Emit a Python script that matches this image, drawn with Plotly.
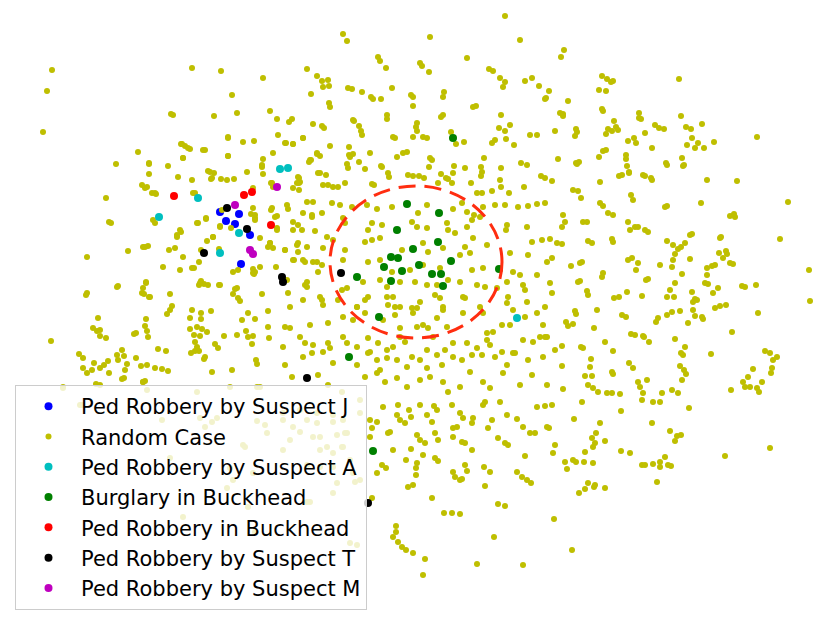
import plotly.graph_objects as go

# positions (x to the right, y downward)
random_case_xy = [
    # top left
    (52, 70), (47, 91), (43, 132), (192, 68), (221, 71), (263, 78), (232, 95), (171, 114), (173, 115),
    (214, 116), (237, 113), (270, 111), (277, 119), (228, 138), (243, 142), (254, 141), (278, 135),
    (181, 144), (185, 146), (190, 149), (138, 152), (205, 150), (228, 156), (183, 158), (263, 159),
    (273, 153), (116, 164), (149, 164), (168, 166), (262, 167), (149, 174), (178, 177), (208, 171),
    (214, 173), (211, 179), (221, 179), (227, 180), (234, 179), (247, 172), (263, 174), (142, 185),
    (145, 188), (192, 180), (152, 193), (156, 194), (193, 193), (271, 183), (253, 188), (106, 198),
    (182, 144), (188, 148), (203, 150), (149, 163), (210, 172), (212, 178), (262, 165), (285, 143),
    (293, 144), (303, 138), (317, 153), (310, 160), (298, 177), (300, 182), (272, 183), (273, 187),
    (147, 187), (155, 193), (195, 193),
    # top middle
    (505, 16), (343, 34), (347, 41), (430, 37), (520, 40), (378, 57), (380, 61), (420, 63), (422, 66),
    (467, 58), (307, 69), (386, 68), (429, 72), (489, 69), (493, 71), (317, 76), (322, 81), (328, 80),
    (323, 87), (329, 86), (500, 78), (505, 82), (503, 87), (525, 81), (532, 78), (539, 86), (348, 88),
    (352, 89), (362, 92), (392, 88), (549, 91), (311, 94), (371, 97), (373, 99), (381, 99), (411, 95),
    (413, 97), (444, 92), (443, 97), (545, 99), (546, 98), (329, 103), (330, 107), (413, 106),
    (473, 107), (476, 106), (560, 113), (289, 122), (292, 119), (387, 115), (387, 119), (443, 115),
    (441, 117), (501, 115), (313, 124), (322, 126), (324, 128), (353, 120), (354, 121), (359, 126),
    (361, 131), (362, 135), (417, 123), (416, 127), (417, 131), (499, 128), (505, 131), (510, 125),
    (555, 131), (303, 138), (330, 146), (286, 143), (293, 144), (349, 147), (393, 137), (395, 138),
    (413, 137), (423, 137), (427, 138), (451, 132), (456, 144), (464, 142), (492, 143), (495, 140),
    (506, 139), (514, 145), (530, 135), (537, 135), (311, 160), (309, 162), (317, 154), (320, 156),
    (349, 155), (353, 154), (350, 157), (370, 153), (359, 162), (397, 157), (403, 153), (407, 152),
    (430, 158), (432, 160), (429, 167), (484, 158), (347, 164), (348, 168), (365, 169), (381, 166),
    (382, 167), (388, 173), (389, 177), (408, 175), (413, 176), (419, 176), (424, 178), (441, 174),
    (446, 178), (453, 173), (454, 166), (465, 168), (481, 167), (482, 172), (481, 176), (501, 168),
    (521, 163), (527, 165), (541, 176), (545, 178), (552, 181), (558, 159), (318, 173), (320, 173),
    (326, 175), (299, 178), (299, 183), (293, 188), (323, 185), (328, 185), (333, 187), (338, 187),
    (345, 183), (372, 184), (374, 185), (438, 183), (448, 179), (452, 183), (471, 183), (500, 180),
    (501, 187), (477, 193), (482, 193), (492, 191), (524, 187), (509, 193),
    # top right
    (564, 50), (561, 57), (602, 76), (607, 79), (613, 81), (611, 82), (679, 79), (599, 90), (606, 91),
    (568, 101), (563, 114), (563, 116), (602, 109), (603, 111), (639, 113), (639, 118), (641, 119),
    (681, 116), (576, 129), (577, 132), (575, 136), (614, 121), (616, 127), (618, 130), (608, 129),
    (612, 131), (606, 134), (655, 125), (659, 128), (664, 129), (645, 133), (686, 127), (691, 129),
    (702, 124), (757, 137), (628, 141), (634, 138), (636, 143), (652, 148), (692, 138), (687, 145),
    (695, 148), (698, 143), (704, 148), (714, 142), (603, 151), (606, 150), (599, 157), (576, 163),
    (579, 162), (577, 164), (626, 155), (626, 159), (627, 166), (629, 172), (629, 173), (666, 163),
    (667, 165), (682, 158), (683, 166), (684, 165), (619, 176), (622, 175), (600, 182), (643, 175),
    (645, 176), (651, 178), (652, 180), (707, 180), (737, 181), (573, 190), (578, 191), (581, 198),
    (631, 195),
    # middle left
    (109, 222), (111, 223), (153, 220), (155, 223), (181, 232), (177, 235), (198, 223), (206, 219),
    (213, 237), (220, 226), (87, 257), (128, 251), (143, 247), (148, 246), (169, 250), (175, 248),
    (201, 250), (207, 241), (219, 249), (231, 228), (199, 262), (192, 268), (194, 268), (163, 267),
    (180, 270), (233, 272), (238, 270), (253, 269), (254, 274), (260, 267), (270, 243), (273, 248),
    (271, 210), (277, 216), (277, 230), (251, 214), (255, 218), (253, 208), (118, 286), (117, 287),
    (87, 293), (86, 295), (146, 282), (143, 288), (142, 293), (144, 294), (150, 297), (170, 294),
    (201, 281), (199, 285), (204, 284), (208, 285), (219, 285), (235, 289), (233, 294), (238, 298),
    (240, 301), (262, 294), (172, 306), (170, 310), (167, 314), (192, 310), (190, 318), (201, 313),
    (201, 319), (211, 311), (248, 313), (255, 319), (242, 320), (268, 311), (98, 318), (93, 328),
    (97, 331), (100, 330), (100, 336), (106, 338), (146, 319), (145, 326), (147, 331), (148, 337),
    (134, 334), (136, 333), (51, 341), (190, 329), (197, 327), (202, 329), (207, 332), (194, 335),
    (200, 336), (195, 342), (197, 347), (199, 351), (224, 336), (237, 335), (246, 331), (248, 337),
    (252, 344), (253, 336), (268, 327), (269, 338), (215, 344), (218, 348), (191, 353), (195, 351),
    (205, 357), (204, 359), (158, 349), (166, 351), (79, 354), (83, 358), (122, 350), (117, 355),
    (118, 360), (124, 356), (127, 364), (108, 361), (104, 365), (100, 368), (94, 363), (92, 370),
    (87, 373), (83, 368), (109, 373), (125, 370), (124, 378), (122, 379), (136, 358), (141, 366),
    (147, 365), (155, 368), (162, 369), (168, 371), (212, 372), (232, 370), (256, 360), (257, 364),
    (96, 384), (143, 382), (145, 381), (147, 390), (230, 387), (257, 387), (260, 387), (63, 388),
    (228, 137), (228, 156), (183, 158), (222, 210), (206, 218), (197, 223), (180, 230), (177, 237),
    (213, 237), (220, 227), (255, 215), (255, 220), (272, 208), (275, 217), (287, 205), (297, 183),
    (299, 190), (307, 202), (313, 202), (293, 222), (302, 230), (312, 217), (260, 238), (277, 228),
    (270, 243), (268, 247), (285, 250), (297, 245), (298, 252), (294, 260), (303, 260), (305, 262),
    (317, 262), (307, 282), (276, 267), (255, 272), (253, 273), (220, 285), (237, 288), (200, 283),
    (183, 257), (145, 247), (146, 283), (149, 297),
    # middle
    (288, 209), (303, 213), (312, 215), (322, 213), (332, 203), (340, 205), (352, 207), (367, 205),
    (377, 209), (392, 207), (418, 213), (427, 205), (453, 209), (462, 203), (474, 215), (483, 207),
    (495, 205), (505, 205), (518, 207), (528, 206), (537, 204), (545, 203), (467, 212),
    (293, 230), (298, 225), (315, 231), (327, 237), (343, 218), (345, 223), (372, 223), (368, 230),
    (382, 225), (412, 222), (417, 227), (427, 228), (447, 223), (448, 230), (467, 227), (472, 220),
    (480, 217), (507, 225), (506, 230), (527, 227),
    (285, 250), (298, 243), (307, 247), (323, 248), (333, 240), (345, 250), (365, 242), (372, 240),
    (380, 238), (402, 250), (423, 243), (428, 252), (443, 248), (455, 233), (465, 247), (470, 253),
    (473, 238), (487, 245), (510, 253), (528, 255), (542, 240), (550, 239), (557, 243), (532, 242),
    (293, 260), (313, 262), (322, 265), (343, 260), (368, 262), (380, 260), (392, 272), (410, 270),
    (423, 265), (440, 268), (460, 255), (472, 270), (483, 268), (513, 272), (520, 275), (537, 275),
    (547, 262), (552, 258),
    (287, 280), (305, 285), (307, 287), (318, 272), (342, 290), (347, 288), (363, 282), (380, 280),
    (387, 287), (400, 282), (415, 282), (427, 285), (437, 285), (448, 280), (460, 282), (477, 285),
    (485, 287), (497, 288), (507, 282), (523, 285), (525, 290), (550, 283), (552, 293),
    (288, 293), (303, 300), (320, 297), (322, 300), (323, 305), (338, 300), (357, 307), (365, 300),
    (368, 297), (387, 297), (388, 305), (393, 297), (395, 307), (400, 307), (412, 308), (417, 308),
    (420, 302), (435, 295), (440, 298), (443, 307), (463, 297), (465, 298), (480, 307), (508, 297),
    (507, 303), (527, 302), (545, 307),
    (290, 307), (285, 327), (290, 328), (310, 325), (328, 323), (343, 317), (353, 320), (357, 307),
    (365, 313), (383, 320), (395, 315), (400, 328), (413, 313), (417, 327), (423, 325), (428, 328),
    (437, 318), (443, 310), (447, 327), (463, 313), (483, 313), (487, 333), (493, 332), (502, 325),
    (510, 325), (513, 310), (525, 317), (537, 313), (543, 325), (547, 337), (540, 337),
    (283, 347), (300, 337), (305, 343), (313, 345), (328, 343), (330, 348), (343, 337), (347, 343),
    (357, 347), (368, 338), (370, 352), (378, 343), (387, 350), (393, 347), (400, 337), (405, 342),
    (427, 350), (433, 337), (445, 350), (453, 343), (467, 343), (477, 348), (487, 340), (490, 345),
    (502, 352), (513, 353), (523, 340), (533, 342), (545, 337), (555, 350),
    (285, 365), (303, 357), (312, 353), (323, 352), (333, 363), (357, 365), (368, 353), (377, 360),
    (380, 370), (387, 358), (397, 360), (407, 367), (412, 357), (420, 360), (427, 368), (437, 355),
    (442, 365), (453, 357), (462, 360), (472, 355), (482, 355), (495, 357), (507, 365), (515, 353),
    (528, 360), (543, 357),
    (292, 377), (318, 375), (328, 385), (342, 392), (365, 377), (377, 373), (385, 382), (397, 378),
    (407, 387), (420, 380), (430, 377), (443, 382), (448, 392), (460, 387), (470, 372), (483, 382),
    (490, 388), (503, 373), (520, 385), (532, 375), (547, 385),
    # middle right
    (600, 203), (603, 206), (633, 200), (665, 207), (667, 206), (701, 203), (788, 202), (608, 213),
    (613, 215), (563, 215), (565, 222), (562, 227), (583, 222), (587, 222), (628, 222), (630, 230),
    (635, 227), (638, 227), (645, 230), (648, 232), (730, 216), (734, 214), (735, 217), (588, 241),
    (592, 243), (612, 239), (613, 242), (667, 241), (673, 245), (685, 243), (690, 235), (692, 234),
    (720, 238), (721, 237), (780, 239), (562, 244), (678, 249), (681, 247), (675, 254), (673, 260),
    (672, 267), (690, 259), (719, 253), (726, 251), (723, 258), (727, 254), (730, 263), (733, 264),
    (628, 260), (632, 258), (638, 263), (636, 270), (660, 265), (582, 262), (580, 263), (571, 266),
    (707, 268), (712, 266), (715, 265), (707, 275), (705, 283), (708, 284), (809, 270), (603, 273),
    (602, 277), (682, 274), (646, 280), (648, 279), (580, 281), (578, 282), (675, 283), (742, 286),
    (745, 287), (756, 285), (587, 291), (588, 295), (627, 292), (642, 296), (614, 298), (619, 297),
    (670, 290), (667, 297), (674, 297), (692, 292), (695, 299), (693, 302), (697, 300), (718, 288),
    (713, 293), (810, 301), (597, 310), (715, 308), (720, 306), (726, 305), (680, 311), (693, 310),
    (695, 316), (702, 317), (703, 319), (758, 313), (575, 311), (576, 314), (622, 315), (626, 317),
    (667, 315), (672, 312), (658, 318), (656, 322), (688, 323), (566, 322), (573, 324), (568, 326),
    (594, 328), (631, 334), (635, 335), (643, 336), (644, 337), (649, 342), (675, 339), (732, 332),
    (605, 342), (581, 347), (583, 348), (562, 346), (613, 351), (685, 347), (681, 353), (683, 355),
    (711, 354), (765, 351), (770, 353), (777, 357), (773, 360), (591, 359), (590, 367), (562, 366),
    (629, 363), (633, 368), (680, 366), (684, 370), (686, 374), (612, 372), (613, 374), (753, 369),
    (772, 368), (771, 373), (585, 376), (592, 376), (682, 380), (647, 380), (638, 382), (640, 387),
    (748, 377), (743, 382), (745, 387), (750, 387), (762, 382), (757, 388), (759, 392), (731, 390),
    (588, 385), (593, 388), (598, 392), (607, 393), (612, 393), (620, 394), (643, 393), (662, 393),
    (672, 390), (678, 393), (563, 389),
    # bottom left (behind the legend)
    (80, 405), (162, 420), (200, 418), (212, 422), (217, 418), (205, 427), (257, 421), (265, 425),
    (267, 433), (245, 447), (170, 458), (233, 480), (227, 488), (248, 507), (183, 517), (255, 532),
    (63, 387), (100, 385), (143, 382), (197, 392), (82, 405), (283, 420), (307, 420), (317, 423),
    (293, 427), (300, 432), (333, 415), (343, 420), (360, 400), (360, 413), (347, 433), (343, 447),
    (243, 445), (320, 437), (327, 447), (333, 453), (290, 440), (283, 450), (230, 468), (253, 473),
    (333, 467), (320, 467), (353, 473), (350, 460), (333, 493), (307, 502), (350, 543), (357, 545),
    (337, 483), (355, 482), (360, 480), (310, 502), (283, 413), (300, 410), (317, 413), (333, 422),
    (337, 435), (345, 433), (313, 437), (320, 450), (342, 447), (307, 465),
    # bottom middle
    (370, 420), (372, 428), (377, 422), (370, 437), (383, 407), (398, 405), (397, 415), (400, 420),
    (405, 423), (409, 410), (411, 417), (420, 405), (417, 435), (420, 440), (425, 443), (427, 415),
    (432, 422), (434, 406), (437, 410), (438, 440), (435, 433), (452, 405), (460, 413), (463, 418),
    (453, 428), (457, 427), (453, 437), (462, 442), (465, 443), (473, 418), (472, 423), (483, 405),
    (485, 402), (492, 420), (488, 428), (500, 402), (507, 415), (498, 438), (505, 443), (508, 445),
    (517, 419), (523, 427), (537, 407), (545, 406), (552, 405), (530, 433), (535, 433), (547, 427),
    (549, 428), (555, 445), (553, 453), (525, 456), (472, 450), (390, 432), (388, 433), (393, 450),
    (411, 449), (423, 455), (406, 460), (417, 463), (416, 468), (416, 475), (382, 465), (386, 468),
    (377, 473), (435, 458), (438, 461), (453, 472), (455, 477), (460, 480), (462, 479), (465, 465),
    (467, 471), (484, 467), (490, 472), (485, 486), (517, 472), (522, 477), (527, 480), (531, 483),
    (408, 487), (413, 485), (432, 498), (372, 498), (444, 513), (452, 513), (460, 514), (498, 504),
    (505, 506), (396, 526), (396, 532), (393, 537), (398, 542), (402, 547), (406, 550), (413, 553),
    (425, 559), (423, 575), (477, 564), (494, 537), (523, 565), (554, 519),
    # bottom right
    (582, 402), (642, 400), (653, 402), (660, 402), (689, 408), (621, 411), (574, 419), (600, 423),
    (652, 423), (670, 431), (677, 436), (681, 435), (675, 441), (596, 433), (592, 438), (595, 443),
    (593, 447), (605, 441), (585, 452), (621, 451), (630, 453), (565, 462), (573, 460), (576, 462),
    (567, 469), (584, 462), (593, 463), (642, 465), (645, 465), (653, 464), (660, 462), (665, 457),
    (660, 467), (668, 465), (671, 466), (725, 456), (770, 448), (588, 483), (585, 489), (579, 493),
    (594, 487), (595, 485), (605, 488), (657, 482), (572, 550),
]

suspect_j_xy = [(220, 212), (239, 214), (226, 221), (235, 224), (250, 235), (241, 264)]
suspect_a_xy = [(280, 169), (288, 168), (198, 198), (159, 217), (239, 233), (220, 253), (517, 318)]
burglary_xy = [(407, 204), (439, 213), (397, 230), (438, 242), (413, 249), (391, 257), (398, 258),
               (451, 261), (384, 267), (419, 265), (402, 271), (391, 281), (432, 274), (441, 274),
               (443, 286), (357, 277), (499, 269), (379, 317), (453, 138), (349, 357), (373, 451)]
buckhead_robbery_xy = [(174, 196), (244, 195), (252, 192), (271, 225)]
suspect_t_xy = [(227, 208), (247, 229), (204, 253), (282, 277), (283, 282), (341, 273), (307, 378),
                (368, 503)]
suspect_m_xy = [(277, 187), (235, 205), (250, 250), (253, 254)]

# highlighted zone (bounding box of the dashed circle)
zone = [330, 186, 502, 338]

series = [
    ("Ped Robbery by Suspect J", suspect_j_xy, "#0000ff", 8),
    ("Random Case", random_case_xy, "#bfbf00", 6),
    ("Ped Robbery by Suspect A", suspect_a_xy, "#00bfbf", 8),
    ("Burglary in Buckhead", burglary_xy, "#008000", 8),
    ("Ped Robbery in Buckhead", buckhead_robbery_xy, "#ff0000", 8),
    ("Ped Robbery by Suspect T", suspect_t_xy, "#000000", 8),
    ("Ped Robbery by Suspect M", suspect_m_xy, "#bf00bf", 8),
]

fig = go.Figure()
for name, pts, colour, size in series:
    fig.add_trace(go.Scatter(
        x=[p[0] for p in pts],
        y=[p[1] for p in pts],
        mode="markers",
        name=name,
        marker=dict(color=colour, size=size, line=dict(width=0)),
    ))

fig.add_shape(
    type="circle", xref="x", yref="y",
    x0=zone[0], y0=zone[1], x1=zone[2], y1=zone[3],
    line=dict(color="#ff2d10", width=3, dash="17px,9px"),
)

# the page body adds an 8px margin, so the figure is 8px smaller and the ranges start at 8
fig.update_layout(
    width=823,
    height=614,
    margin=dict(l=0, r=0, t=0, b=0),
    plot_bgcolor="white",
    paper_bgcolor="white",
    font=dict(family="DejaVu Sans", color="black"),
    xaxis=dict(range=[8, 831], visible=False),
    yaxis=dict(range=[622, 8], visible=False),
    legend=dict(
        x=7 / 823, y=1 - 377 / 614,
        xanchor="left", yanchor="top",
        bgcolor="rgba(255,255,255,0.8)",
        bordercolor="#cccccc", borderwidth=1,
        font=dict(size=21, family="DejaVu Sans"),
        itemwidth=55,
    ),
)

fig.write_html("out.html")
